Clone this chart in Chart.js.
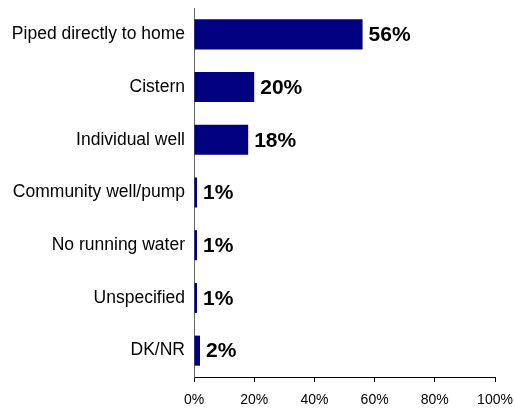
<!DOCTYPE html>
<html>
<head>
<meta charset="utf-8">
<script src="https://cdn.jsdelivr.net/npm/chart.js@4/dist/chart.umd.min.js"></script>
<style>
html,body{margin:0;padding:0;background:#fff;}
#wrap{width:515px;height:408px;position:relative;}
</style>
</head>
<body>
<div id="wrap"><canvas id="c" width="515" height="408"></canvas></div>
<script>
const categories = ["Piped directly to home","Cistern","Individual well","Community well/pump","No running water","Unspecified","DK/NR"];
const values = [56, 20, 18, 1, 1, 1, 2];
const xTicks = [0, 20, 40, 60, 80, 100];

const valueLabels = {
  id: 'valueLabels',
  afterDatasetsDraw(chart) {
    const ctx = chart.ctx;
    const meta = chart.getDatasetMeta(0);
    ctx.save();
    ctx.font = 'bold 21px "Liberation Sans", Arial, sans-serif';
    ctx.fillStyle = '#000';
    ctx.textBaseline = 'middle';
    ctx.textAlign = 'left';
    meta.data.forEach((bar, i) => {
      ctx.fillText(values[i] + '%', bar.x + 6, bar.y + 1);
    });
    ctx.restore();
  }
};

new Chart(document.getElementById('c'), {
  type: 'bar',
  data: {
    labels: categories,
    datasets: [{
      data: values,
      backgroundColor: '#000080',
      borderWidth: 0,
      barPercentage: 0.57,
      categoryPercentage: 1.0
    }]
  },
  options: {
    indexAxis: 'y',
    responsive: false,
    animation: false,
    layout: { padding: { top: 8, right: 20, bottom: 0, left: 0 } },
    plugins: { legend: { display: false }, tooltip: { enabled: false } },
    scales: {
      x: {
        min: 0, max: 100,
        afterBuildTicks(scale) { scale.ticks = xTicks.map(v => ({ value: v })); },
        afterFit(scale) { scale.height = 31; scale.paddingLeft = 0; scale.paddingRight = 0; },
        ticks: {
          callback: v => v + '%',
          color: '#000',
          padding: 10,
          maxRotation: 0,
          font: { family: '"Liberation Sans", Arial, sans-serif', size: 14 }
        },
        grid: { drawOnChartArea: false, drawTicks: true, tickLength: 5, color: '#000' },
        border: { display: true, color: '#000', width: 1 }
      },
      y: {
        afterFit(scale) { scale.width = 194; scale.paddingTop = 0; scale.paddingBottom = 0; },
        ticks: {
          color: '#000',
          padding: 1,
          font: { family: '"Liberation Sans", Arial, sans-serif', size: 17.5 }
        },
        grid: { display: false },
        border: { display: true, color: '#666', width: 1 }
      }
    }
  },
  plugins: [valueLabels]
});
</script>
</body>
</html>
